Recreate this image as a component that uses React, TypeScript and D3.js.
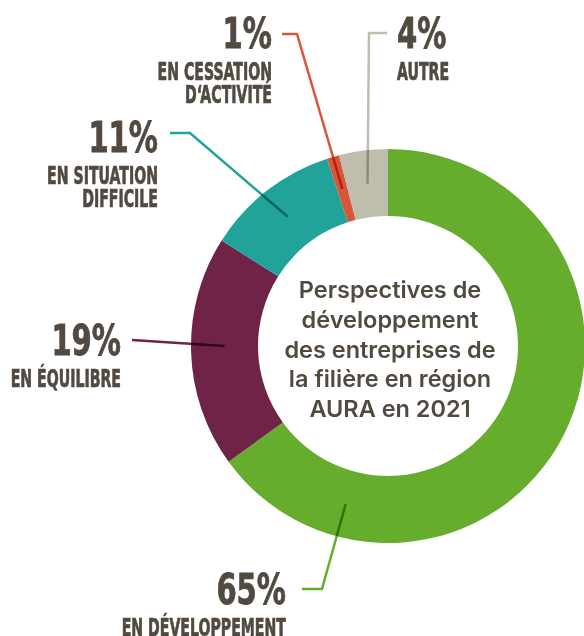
import { useRef, useEffect } from "react";
import * as d3 from "d3";

const categories = ["EN DÉVELOPPEMENT", "EN ÉQUILIBRE", "EN SITUATION DIFFICILE", "EN CESSATION D‘ACTIVITÉ", "AUTRE"];
const values = [65, 19, 11, 1, 4];
const colors = ["#66ad2e", "#6e2347", "#21a39a", "#d9553a", "#bfbdab"];
const labelLines = [["EN DÉVELOPPEMENT"], ["EN ÉQUILIBRE"], ["EN SITUATION", "DIFFICILE"], ["EN CESSATION", "D‘ACTIVITÉ"], ["AUTRE"]];
const titleLines = ["Perspectives de", "développement", "des entreprises de", "la filière en région", "AURA en 2021"];

const W = 584;
const H = 636;
const TEXT = "#524a40";

// label layout: text anchor point, side, leader elbow points, anchor angle override (deg)
const layout = [
  { x: 286, y: 604, anchor: "end", path: [[302, 589], [322, 589]], angle: 195 },
  { x: 121, y: 355, anchor: "end", path: [[132, 340]], angle: 270 },
  { x: 158, y: 152, anchor: "end", path: [[170, 133], [190, 133]], angle: null },
  { x: 272, y: 48, anchor: "end", path: [[282, 34], [297, 34]], angle: null },
  { x: 397, y: 48, anchor: "start", path: [[387, 33], [369, 33]], angle: null },
];

export default function App() {
  const svgRef = useRef<SVGSVGElement>(null);

  useEffect(() => {
    if (!svgRef.current) return;
    const svg = d3.select(svgRef.current);
    svg.selectAll("*").remove();

    const cx = 388;
    const cy = 346;
    const outerR = 197;
    const innerR = 130;
    const midR = (outerR + innerR) / 2;

    const pie = d3.pie<number>().sort(null).value((d) => d);
    const arcs = pie(values);
    const arc = d3.arc<d3.PieArcDatum<number>>().innerRadius(innerR).outerRadius(outerR);

    const g = svg.append("g").attr("transform", `translate(${cx},${cy})`);
    g.selectAll("path.slice")
      .data(arcs)
      .join("path")
      .attr("class", "slice")
      .attr("fill", (_, i) => colors[i])
      .attr("d", arc);

    // leader lines
    const line = d3.line();
    arcs.forEach((a, i) => {
      const l = layout[i];
      const ang = l.angle != null ? (l.angle * Math.PI) / 180 : (a.startAngle + a.endAngle) / 2;
      const end: [number, number] = [cx + midR * Math.sin(ang), cy - midR * Math.cos(ang)];
      const pts = [...(l.path as [number, number][]), end];
      svg.append("path")
        .attr("d", line(pts))
        .attr("fill", "none")
        .attr("stroke", colors[i])
        .attr("stroke-width", 2.5)
        .style("mix-blend-mode", "multiply");
    });

    // labels (condensed look via horizontal scaling)
    const labelFont = "'DejaVu Sans Condensed', 'DejaVu Sans', sans-serif";
    arcs.forEach((a, i) => {
      const l = layout[i];
      svg.append("g")
        .attr("transform", `translate(${l.x},0) scale(0.77,1)`)
        .append("text")
        .attr("x", 0)
        .attr("y", l.y)
        .attr("text-anchor", l.anchor)
        .attr("fill", TEXT)
        .attr("stroke", TEXT)
        .attr("stroke-width", 0.8)
        .attr("font-family", labelFont)
        .attr("font-stretch", "condensed")
        .attr("font-weight", 700)
        .attr("font-size", 42)
        .text(`${values[i]}%`);
      const tg = svg.append("g").attr("transform", `translate(${l.x},0) scale(0.655,1)`);
      labelLines[i].forEach((t, j) => {
        tg.append("text")
          .attr("x", 0)
          .attr("y", l.y + 32 + j * 23)
          .attr("text-anchor", l.anchor)
          .attr("fill", TEXT)
          .attr("stroke", TEXT)
          .attr("stroke-width", 0.7)
          .attr("font-family", labelFont)
          .attr("font-stretch", "condensed")
          .attr("font-weight", 700)
          .attr("font-size", 24)
          .text(t);
      });
    });

    // center title
    svg.append("g")
      .selectAll("text")
      .data(titleLines)
      .join("text")
      .attr("x", cx + 2)
      .attr("y", (_, i) => 298 + i * 29.8)
      .attr("text-anchor", "middle")
      .attr("fill", TEXT)
      .attr("font-family", "Inter, 'Noto Sans', sans-serif")
      .attr("font-weight", 600)
      .attr("font-size", 23.5)
      .text((d) => d);
  }, []);

  return (
    <svg
      ref={svgRef}
      width={W}
      height={H}
      role="img"
      aria-label={categories.join(", ")}
      style={{ position: "absolute", left: 0, top: 0, display: "block", background: "#fff" }}
    />
  );
}
